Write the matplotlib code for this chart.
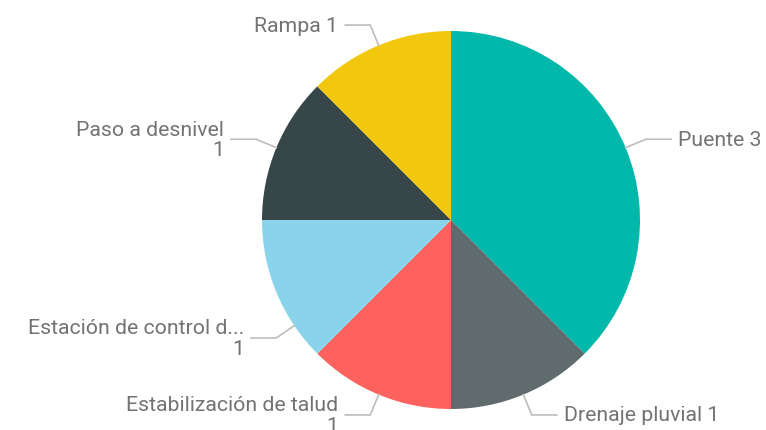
import numpy as np
import matplotlib
matplotlib.use('Agg')
from matplotlib import pyplot as plt

# data
labels = ['Puente', 'Drenaje pluvial', 'Estabilización de talud',
          'Estación de control d...', 'Paso a desnivel', 'Rampa']
values = [3, 1, 1, 1, 1, 1]
colors = ['#01B8AA', '#5F6B6D', '#FD625E', '#8AD4EB', '#374649', '#F2C80F']
two_line = [False, False, True, True, True, False]

plt.rcParams['font.family'] = ['Roboto', 'DejaVu Sans']

W, H = 766, 431
fig = plt.figure(figsize=(W / 100, H / 100), dpi=100)
ax = fig.add_axes([0, 0, 1, 1])

cx, cy, R = 451, H - 221, 189
wedges, _ = ax.pie(values, colors=colors, startangle=90, counterclock=False,
                   center=(cx, cy), radius=R, frame=True,
                   wedgeprops=dict(linewidth=0))
ax.set_xlim(0, W)
ax.set_ylim(0, H)
ax.set_aspect('equal')
ax.axis('off')

line_color = '#BDBDBD'
text_color = '#737373'

for i, w in enumerate(wedges):
    ang = (w.theta1 + w.theta2) / 2
    # this label is nudged down a bit to avoid its neighbour
    if labels[i].startswith('Estación'):
        ang = -146
    a = np.deg2rad(ang)
    x0, y0 = cx + R * np.cos(a), cy + R * np.sin(a)
    x1, y1 = cx + 211 * np.cos(a), cy + 211 * np.sin(a)
    side = 1 if np.cos(a) > 0 else -1
    x2 = x1 + side * 25
    ax.plot([x0, x1, x2], [y0, y1, y1], color=line_color, lw=1.2,
            solid_joinstyle='miter')
    txt = f'{labels[i]}\n{values[i]}' if two_line[i] else f'{labels[i]} {values[i]}'
    ax.text(x2 + side * 7, y1, txt, ha='left' if side > 0 else 'right',
            va='center', multialignment='right', fontsize=15.3,
            color=text_color, linespacing=1.1)

fig.savefig('out.png', dpi=100)
